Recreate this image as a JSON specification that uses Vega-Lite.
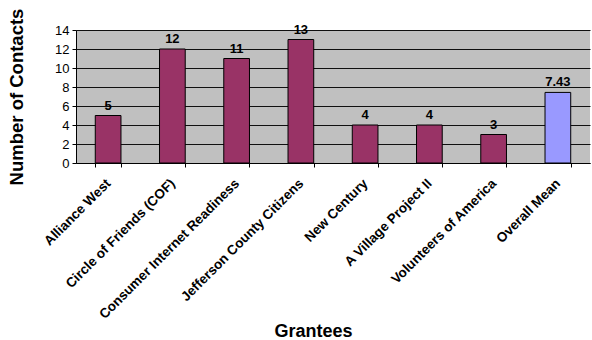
{
  "$schema": "https://vega.github.io/schema/vega-lite/v6.json",
  "width": 514,
  "height": 133,
  "autosize": "none",
  "padding": {"left": 76, "top": 30, "right": 2, "bottom": 177},
  "background": "white",
  "config": {
    "view": {"fill": "#C0C0C0", "stroke": null},
    "font": "Liberation Sans"
  },
  "data": {
    "values": [
      {"grantee": "Alliance West", "contacts": 5, "label": "5", "group": "grantee"},
      {"grantee": "Circle of Friends (COF)", "contacts": 12, "label": "12", "group": "grantee"},
      {"grantee": "Consumer Internet Readiness", "contacts": 11, "label": "11", "group": "grantee"},
      {"grantee": "Jefferson County Citizens", "contacts": 13, "label": "13", "group": "grantee"},
      {"grantee": "New Century", "contacts": 4, "label": "4", "group": "grantee"},
      {"grantee": "A Village Project II", "contacts": 4, "label": "4", "group": "grantee"},
      {"grantee": "Volunteers of America", "contacts": 3, "label": "3", "group": "grantee"},
      {"grantee": "Overall Mean", "contacts": 7.43, "label": "7.43", "group": "mean"}
    ]
  },
  "encoding": {
    "x": {
      "field": "grantee",
      "type": "nominal",
      "sort": null,
      "scale": {"paddingInner": 0.6, "paddingOuter": 0.3},
      "axis": {
        "title": "Grantees",
        "titleFontSize": 18,
        "titleFontWeight": "bold",
        "titleColor": "black",
        "titleX": 237,
        "titleY": 168,
        "titleBaseline": "middle",
        "titleAnchor": "middle",
        "titleAlign": "center",
        "labelAngle": -45,
        "labelAlign": "right",
        "labelBaseline": "middle",
        "labelFontSize": 13.5,
        "labelFontWeight": "bold",
        "labelColor": "black",
        "labelLimit": 400,
        "labelPadding": 14,
        "labelOffset": 0,
        "tickBand": "extent",
        "tickColor": "black",
        "tickSize": 4,
        "domainColor": "black",
        "domainWidth": 1
      }
    },
    "y": {
      "field": "contacts",
      "type": "quantitative",
      "scale": {"domain": [0, 14]},
      "axis": {
        "values": [0, 2, 4, 6, 8, 10, 12, 14],
        "title": "Number of Contacts",
        "titleFontSize": 18.5,
        "titleFontWeight": "bold",
        "titleColor": "black",
        "titlePadding": 28,
        "labelFontSize": 13,
        "labelColor": "black",
        "labelPadding": 3,
        "tickColor": "black",
        "tickSize": 4,
        "domainColor": "black",
        "gridColor": "#101010",
        "gridWidth": 1,
        "gridOpacity": 1
      }
    }
  },
  "layer": [
    {
      "mark": {"type": "bar", "stroke": "black", "strokeWidth": 1},
      "encoding": {
        "color": {
          "field": "group",
          "type": "nominal",
          "scale": {"domain": ["grantee", "mean"], "range": ["#993366", "#9999FF"]},
          "legend": null
        }
      }
    },
    {
      "mark": {"type": "text", "dy": -10, "fontWeight": "bold", "fontSize": 13, "color": "black"},
      "encoding": {"text": {"field": "label"}}
    }
  ]
}
